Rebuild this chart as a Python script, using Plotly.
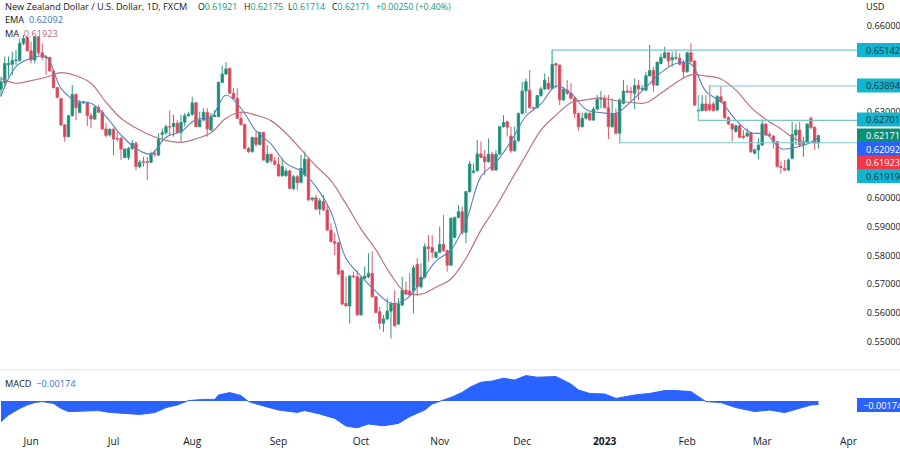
import pandas as pd
import plotly.graph_objects as go

# daily candles, 20 May 2022 to 22 Mar 2023
dates = pd.bdate_range("2022-05-20", periods=219)

opens = [
    .6378, .6401, .6463, .6465, .6478, .6478, .6538, .6558, .6512, .6480,
    .6561, .6505, .6491, .6489, .6442, .6384, .6346, .6254, .6213, .6286,
    .6360, .6297, .6331, .6331, .6286, .6275, .6314, .6298, .6240, .6219,
    .6239, .6207, .6207, .6141, .6141, .6172, .6190, .6109, .6126, .6126,
    .6124, .6155, .6149, .6221, .6227, .6248, .6248, .6260, .6228, .6263,
    .6286, .6291, .6331, .6248, .6271, .6298, .6236, .6283, .6283, .6402,
    .6431, .6451, .6364, .6346, .6277, .6256, .6172, .6161, .6210, .6186,
    .6228, .6124, .6152, .6129, .6117, .6077, .6077, .6094, .6033, .6074,
    .6054, .6080, .6135, .5995, .6000, .5961, .5987, .5958, .5888, .5848,
    .5844, .5747, .5633, .5624, .5728, .5726, .5593, .5720, .5726, .5737,
    .5656, .5604, .5564, .5579, .5606, .5631, .5561, .5627, .5679, .5676,
    .5676, .5769, .5691, .5724, .5830, .5827, .5793, .5811, .5838, .5816,
    .5766, .5863, .5932, .5952, .5880, .6022, .6089, .6095, .6153, .6143,
    .6126, .6152, .6097, .6153, .6248, .6265, .6215, .6164, .6199, .6294,
    .6372, .6375, .6314, .6314, .6356, .6379, .6399, .6381, .6467, .6462,
    .6341, .6375, .6364, .6346, .6294, .6248, .6277, .6294, .6271, .6309,
    .6343, .6346, .6314, .6248, .6294, .6225, .6329, .6372, .6371, .6364,
    .6391, .6378, .6375, .6425, .6443, .6393, .6468, .6488, .6505, .6480,
    .6486, .6486, .6472, .6439, .6505, .6476, .6302, .6304, .6327, .6327,
    .6327, .6306, .6352, .6335, .6279, .6257, .6231, .6251, .6215, .6215,
    .6227, .6155, .6167, .6184, .6257, .6221, .6215, .6196, .6109, .6103,
    .6097, .6138, .6219, .6236, .6186, .6193, .6277, .6246, .61921,
]
highs = [
    .6422, .6492, .6492, .6509, .6515, .6555, .6567, .6561, .6544, .6563,
    .6563, .6538, .6497, .6491, .6445, .6385, .6346, .6257, .6289, .6393,
    .6364, .6341, .6337, .6335, .6295, .6323, .6323, .6306, .6260, .6242,
    .6242, .6230, .6213, .6172, .6178, .6201, .6196, .6132, .6143, .6143,
    .6161, .6167, .6225, .6242, .6254, .6304, .6289, .6271, .6289, .6295,
    .6300, .6352, .6335, .6300, .6312, .6312, .6295, .6306, .6405, .6460,
    .6472, .6453, .6381, .6381, .6300, .6257, .6178, .6213, .6230, .6230,
    .6230, .6184, .6153, .6143, .6143, .6138, .6103, .6097, .6080, .6080,
    .6149, .6161, .6138, .6001, .6010, .6000, .6010, .5975, .5912, .5877,
    .5846, .5749, .5726, .5732, .5743, .5749, .5726, .5761, .5807, .5813,
    .5659, .5621, .5593, .5651, .5639, .5679, .5651, .5726, .5708, .5738,
    .5766, .5790, .5772, .5842, .5871, .5871, .5813, .5900, .5941, .5821,
    .5932, .5935, .5975, .5970, .6024, .6129, .6120, .6202, .6196, .6167,
    .6207, .6161, .6167, .6250, .6288, .6269, .6248, .6248, .6297, .6404,
    .6416, .6445, .6317, .6358, .6387, .6433, .6422, .6515, .6471, .6465,
    .6387, .6410, .6399, .6352, .6297, .6297, .6300, .6300, .6317, .6358,
    .6372, .6358, .6358, .6346, .6312, .6346, .6410, .6393, .6387, .6416,
    .6410, .6393, .6439, .6532, .6457, .6474, .6503, .6526, .6508, .6509,
    .6512, .6503, .6480, .6508, .6538, .6480, .6358, .6358, .6358, .6393,
    .6335, .6358, .6389, .6337, .6283, .6259, .6256, .6256, .6236, .6242,
    .6230, .6172, .6207, .6273, .6259, .6230, .6219, .6198, .6126, .6132,
    .6138, .6265, .6259, .6265, .6213, .6259, .6283, .6248, .62175,
]
lows = [
    .6352, .6387, .6422, .6428, .6463, .6474, .6532, .6509, .6468, .6468,
    .6497, .6480, .6428, .6439, .6381, .6346, .6250, .6196, .6211, .6283,
    .6271, .6295, .6327, .6250, .6242, .6271, .6295, .6236, .6211, .6213,
    .6149, .6196, .6132, .6138, .6132, .6167, .6097, .6103, .6109, .6062,
    .6120, .6143, .6146, .6196, .6219, .6219, .6213, .6225, .6196, .6248,
    .6283, .6286, .6246, .6246, .6266, .6213, .6234, .6281, .6281, .6399,
    .6428, .6362, .6343, .6274, .6250, .6169, .6157, .6157, .6178, .6183,
    .6130, .6120, .6120, .6112, .6074, .6074, .6074, .6030, .6027, .6027,
    .6051, .6074, .5990, .5987, .5958, .5941, .5954, .5885, .5845, .5801,
    .5732, .5627, .5622, .5563, .5720, .5589, .5590, .5716, .5720, .5653,
    .5598, .5543, .5534, .5575, .5511, .5552, .5558, .5624, .5662, .5656,
    .5598, .5660, .5685, .5720, .5778, .5790, .5790, .5807, .5813, .5743,
    .5763, .5859, .5929, .5871, .5842, .6018, .6085, .6091, .6138, .6080,
    .6123, .6094, .6094, .6149, .6244, .6213, .6157, .6161, .6196, .6291,
    .6294, .6311, .6306, .6311, .6352, .6375, .6375, .6378, .6381, .6323,
    .6337, .6358, .6343, .6277, .6234, .6244, .6273, .6268, .6268, .6306,
    .6312, .6311, .6204, .6244, .6221, .6190, .6326, .6364, .6338, .6309,
    .6341, .6373, .6372, .6422, .6370, .6389, .6465, .6484, .6457, .6457,
    .6480, .6461, .6416, .6436, .6471, .6320, .6271, .6300, .6300, .6302,
    .6300, .6302, .6331, .6276, .6254, .6196, .6227, .6207, .6204, .6213,
    .6157, .6152, .6134, .6181, .6215, .6213, .6172, .6106, .6085, .6094,
    .6094, .6134, .6184, .6181, .6143, .6190, .6241, .6167, .61714,
]
closes = [
    .6404, .6468, .6468, .6478, .6480, .6538, .6555, .6512, .6480, .6561,
    .6505, .6489, .6488, .6442, .6384, .6350, .6254, .6213, .6286, .6360,
    .6314, .6331, .6334, .6286, .6275, .6314, .6298, .6240, .6217, .6239,
    .6205, .6205, .6170, .6170, .6172, .6190, .6109, .6124, .6124, .6124,
    .6153, .6152, .6204, .6227, .6248, .6247, .6260, .6228, .6263, .6286,
    .6291, .6331, .6248, .6271, .6298, .6240, .6283, .6286, .6402, .6431,
    .6449, .6364, .6346, .6277, .6256, .6172, .6161, .6210, .6186, .6228,
    .6132, .6152, .6129, .6117, .6077, .6109, .6094, .6033, .6074, .6053,
    .6103, .6135, .5993, .6000, .5961, .5990, .5958, .5888, .5848, .5842,
    .5735, .5631, .5624, .5728, .5726, .5593, .5722, .5728, .5737, .5656,
    .5601, .5564, .5579, .5606, .5631, .5555, .5631, .5679, .5665, .5662,
    .5757, .5691, .5724, .5830, .5824, .5811, .5811, .5838, .5816, .5766,
    .5929, .5932, .5952, .5880, .6022, .6118, .6094, .6153, .6141, .6126,
    .6152, .6097, .6152, .6248, .6263, .6246, .6164, .6199, .6294, .6372,
    .6404, .6314, .6313, .6356, .6379, .6410, .6379, .6465, .6462, .6341,
    .6378, .6364, .6346, .6294, .6248, .6277, .6294, .6271, .6309, .6343,
    .6346, .6314, .6248, .6294, .6225, .6341, .6372, .6368, .6367, .6391,
    .6379, .6381, .6425, .6443, .6393, .6472, .6489, .6505, .6476, .6488,
    .6488, .6465, .6439, .6505, .6474, .6323, .6306, .6327, .6304, .6306,
    .6304, .6352, .6335, .6279, .6257, .6240, .6251, .6211, .6211, .6225,
    .6161, .6167, .6184, .6257, .6219, .6218, .6196, .6109, .6106, .6097,
    .6132, .6221, .6236, .6184, .6193, .6257, .6244, .6192, .62171,
]

# moving averages read every fourth candle, plus the last one
line_idx = list(range(0, 217, 4)) + [218]
ema = [
    .6355, .6457, .6486, .6492, .6381, .6337, .6329, .6283, .6219, .6172,
    .6153, .6211, .6231, .6273, .6281, .6358, .6312, .6233, .6188, .6120,
    .6094, .6039, .5952, .5790, .5728, .5674, .5633, .5647, .5709, .5780,
    .5819, .5917, .6074, .6124, .6196, .6285, .6327, .6389, .6364, .6308,
    .6297, .6294, .6335, .6385, .6436, .6468, .6466, .6370, .6335, .6271,
    .6227, .6222, .6172, .6176, .6193, .62092,
]
ma = [
    .6415, .6399, .6408, .6420, .6436, .6425, .6399, .6333, .6277, .6243,
    .6217, .6200, .6193, .6206, .6227, .6277, .6298, .6288, .6269, .6225,
    .6169, .6111, .6060, .5979, .5892, .5819, .5732, .5670, .5665, .5689,
    .5718, .5790, .5888, .5969, .6060, .6149, .6236, .6288, .6331, .6341,
    .6348, .6338, .6332, .6331, .6364, .6401, .6428, .6424, .6414, .6375,
    .6315, .6273, .6240, .6204, .6193, .61923,
]

macd_idx = [
    0, 2, 5, 7, 9, 11, 14, 16, 18, 21, 26, 29, 34, 37, 41, 44, 47, 50, 54, 57,
    58, 61, 64, 66, 70, 74, 79, 81, 85, 89, 92, 95, 98, 102, 106, 109, 113, 115,
    118, 120, 123, 125, 128, 131, 134, 137, 140, 143, 148, 152, 154, 157, 161,
    164, 169, 173, 177, 180, 184, 188, 192, 196, 201, 205, 209, 213, 216, 218,
]
macd = [
    -.0104, -.0070, -.0037, -.0020, -.0008, -.0003, -.0012, -.0037, -.0053, -.0050,
    -.0048, -.0057, -.0065, -.0067, -.0058, -.0033, -.0020, .0002, .0008, .0008,
    .0030, .0042, .0027, -.0003, -.0025, -.0045, -.0057, -.0048, -.0065, -.0087,
    -.0125, -.0134, -.0115, -.0124, -.0112, -.0078, -.0045, -.0015, .0005, .0018,
    .0043, .0068, .0094, .0100, .0114, .0105, .0127, .0119, .0122, .0085,
    .0055, .0038, .0035, .0013, .0030, .0038, .0052, .0052, .0047, -.0003,
    -.0008, -.0033, -.0053, -.0045, -.0058, -.0037, -.0020, -.00174,
]

# horizontal levels: price, candle it starts from, price where its stem ends
levels = [.65142, .63894, .62701, .61919]
level_start = [147, 189, 186, 165]
level_stem = [.6465, .6323, .6358, .6225]

month_ticks = ["2022-06-01", "2022-07-01", "2022-08-01", "2022-09-01", "2022-10-03", "2022-11-01",
               "2022-12-01", "2023-01-02", "2023-02-01", "2023-03-01", "2023-04-03"]
month_labels = ["Jun", "Jul", "Aug", "Sep", "Oct", "Nov", "Dec", "<b>2023</b>", "Feb", "Mar", "Apr"]
price_ticks = [.55, .56, .57, .58, .59, .60, .61, .62, .63, .64, .65, .66]

# right hand labels: text, background, text colour, centre in px from top, text start past the axis
tag_text = ["0.65142", "0.63894", "0.62701", "0.62171", "0.62092", "0.61923", "0.61919", "−0.00174"]
tag_bg = ["#12b5cf", "#12b5cf", "#12b5cf", "#0b8f74", "#2962ff", "#f23645", "#12b5cf", "#2962ff"]
tag_fg = ["#17333a", "#17333a", "#17333a", "white", "white", "white", "#17333a", "white"]
tag_y = [50, 85.5, 119.5, 135.5, 149, 162.5, 176, 405]
tag_shift = [7, 7, 7, 7, 7, 7, 7, 4]

# header pieces after the title: label, value, left edge in px
head_label = ["O", "H", "L", "C", ""]
head_value = ["0.61921", "0.62175", "0.61714", "0.62171", "+0.00250 (+0.40%)"]
head_x = [196, 241.5, 286, 329.5, 374]

FONT = "Open Sans"
GREEN = "#0f8c74"
RED = "#e03c4e"
TEAL = "#089981"
PANE_W = 857
X_START = "2022-05-19 17:30"
X_END = "2023-04-05 07:00"

fig = go.Figure()
fig.add_trace(go.Candlestick(
    x=dates, open=opens, high=highs, low=lows, close=closes,
    increasing=dict(fillcolor=GREEN, line=dict(color="#2f9582", width=1)),
    decreasing=dict(fillcolor=RED, line=dict(color="#d9596a", width=1)),
    whiskerwidth=0, hoverinfo="skip", showlegend=False,
))
fig.add_trace(go.Scatter(x=dates[line_idx], y=ma, mode="lines", showlegend=False, hoverinfo="skip",
                         line=dict(color="#c0737d", width=1.2, shape="spline")))
fig.add_trace(go.Scatter(x=dates[line_idx], y=ema, mode="lines", showlegend=False, hoverinfo="skip",
                         line=dict(color="#5b80bd", width=1.1, shape="spline")))
for price, start, stem in zip(levels, level_start, level_stem):
    fig.add_trace(go.Scatter(x=[dates[start], dates[start], X_END], y=[stem, price, price],
                             mode="lines", showlegend=False, hoverinfo="skip",
                             line=dict(color="#7cc6c8", width=1.2)))
fig.add_trace(go.Scatter(x=dates[macd_idx], y=macd, mode="lines", fill="tozeroy", xaxis="x", yaxis="y2",
                         fillcolor="#2962ff", showlegend=False, hoverinfo="skip",
                         line=dict(color="#2962ff", width=1)))


def note(text, px, py, size=9.2, color="#131722"):
    return dict(text=text, xref="paper", yref="paper", x=px / PANE_W, y=1 - py / 450, xanchor="left",
                yanchor="middle", showarrow=False, font=dict(family=FONT, size=size, color=color))


annotations = [
    note("New Zealand Dollar / U.S. Dollar, 1D, FXCM", 3, 6.5),
    note("EMA&nbsp;&nbsp;<span style='color:#3f72b8'>0.62092</span>", 3, 20),
    note("MA&nbsp;&nbsp;<span style='color:#bb6672'>0.61923</span>", 3, 33.5),
    note("MACD&nbsp;&nbsp;<span style='color:#3f72b8'>−0.00174</span>", 3, 383),
    note("USD", PANE_W + 7, 7),
]
for label, value, px in zip(head_label, head_value, head_x):
    annotations.append(note(f"{label}<span style='color:{TEAL}'>{value}</span>", px, 6.5, size=8.8))

shapes = [dict(type="line", xref="paper", yref="paper", x0=0, x1=900 / PANE_W, y0=1 - 370 / 450, y1=1 - 370 / 450,
               line=dict(color="#eef0f5", width=2))]
for text, bg, fg, y, shift in zip(tag_text, tag_bg, tag_fg, tag_y, tag_shift):
    shapes.append(dict(type="rect", xref="paper", yref="paper", x0=1, x1=900 / PANE_W, y0=1 - (y + 7) / 450,
                       y1=1 - (y - 7) / 450, fillcolor=bg, line=dict(width=0), layer="above"))
    annotations.append(note(text, PANE_W + shift, y, color=fg))

fig.update_layout(
    width=900, height=450, autosize=False,
    margin=dict(l=0, r=900 - PANE_W, t=0, b=0),
    paper_bgcolor="white", plot_bgcolor="white",
    font=dict(family=FONT, size=10, color="#131722"),
    boxgap=0.12, showlegend=False,
    annotations=annotations,
    shapes=shapes,
    xaxis=dict(type="date", anchor="y2", range=[X_START, X_END], rangeslider=dict(visible=False),
               rangebreaks=[dict(bounds=["sat", "mon"])], tickmode="array", tickvals=month_ticks,
               ticktext=month_labels, showgrid=False, zeroline=False, showline=False, ticks="", tickangle=0,
               automargin=False, tickfont=dict(family=FONT, size=10.2, color="#131722")),
    yaxis=dict(domain=[1 - 369 / 450, 1], range=[.54046, .66887], side="right", tickmode="array",
               tickvals=price_ticks, tickformat=".5f", showgrid=False, zeroline=False, showline=False,
               automargin=False, ticks="outside", ticklen=7, tickcolor="white",
               tickfont=dict(family=FONT, size=9.2, color="#131722")),
    yaxis2=dict(domain=[1 - 434 / 450, 1 - 371 / 450], range=[-.0165, .015], showticklabels=False,
                showgrid=False, zeroline=False, showline=False, ticks="", automargin=False),
)

# the page's default body margin would push the figure 8px in
fig.write_html("out.html", config=dict(displayModeBar=False),
               post_script="document.body.style.margin = '0';")
